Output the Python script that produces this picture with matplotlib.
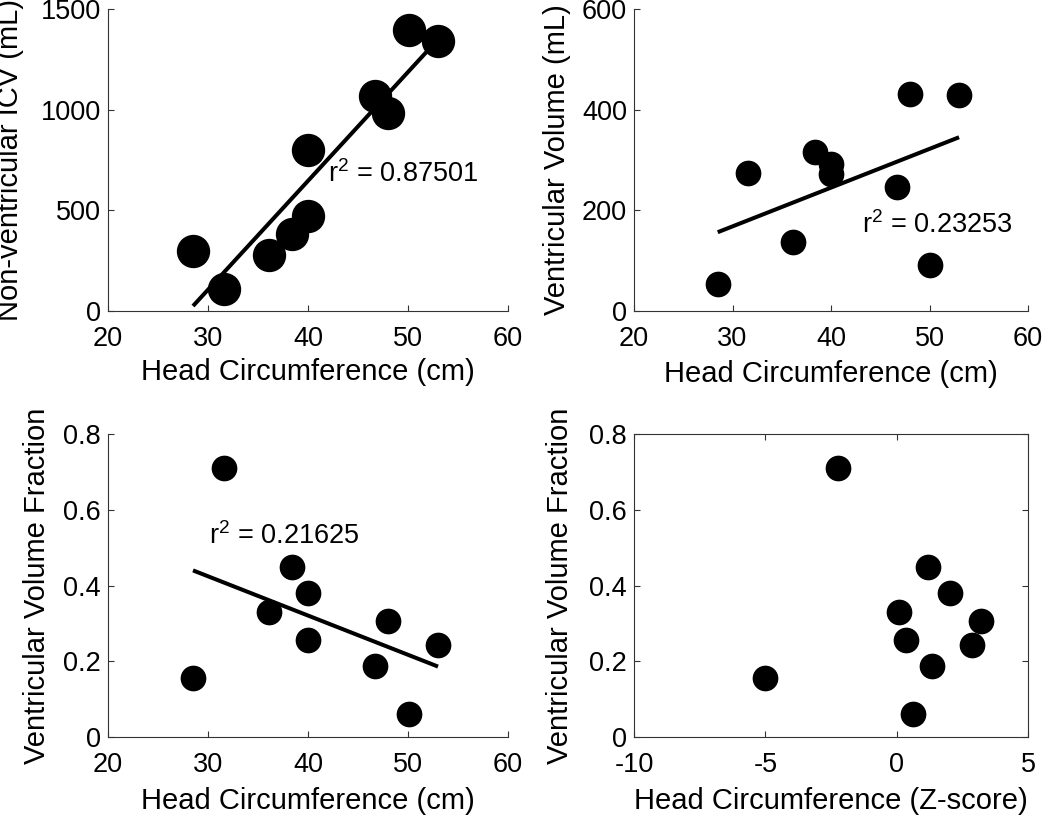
import matplotlib
matplotlib.use('Agg')
import matplotlib.pyplot as plt
import numpy as np

plt.rcParams['font.family'] = ['Liberation Sans', 'DejaVu Sans']
plt.rcParams['axes.unicode_minus'] = False

# ---- data ----
hc_cm = [28.5, 31.6, 36.1, 38.35, 40.0, 40.0, 46.7, 48.0, 50.1, 53.0]
nonvent_icv = [300, 111, 278, 380, 800, 474, 1069, 983, 1397, 1339]
vent_vol = [54, 274, 137, 316, 272, 292, 247, 432, 92, 430]
vvf = [0.156, 0.709, 0.329, 0.449, 0.2555, 0.380, 0.1885, 0.306, 0.062, 0.244]
hc_z = [-5.03, -2.25, 0.09, 1.19, 0.37, 2.04, 1.35, 3.21, 0.61, 2.86]

r2_texts = ["0.87501", "0.23253", "0.21625"]
xlab_cm = "Head Circumference (cm)"
xlab_z = "Head Circumference (Z-score)"
ylabels = ["Non-ventricular ICV (mL)", "Ventricular Volume (mL)",
           "Ventricular Volume Fraction", "Ventricular Volume Fraction"]

W, H = 1050, 816
fig = plt.figure(figsize=(W / 100, H / 100), dpi=100)

def px_axes(l, t, r, b):
    return fig.add_axes([l / W, 1 - b / H, (r - l) / W, (b - t) / H])

ax1 = px_axes(108, 9, 508, 311)
ax2 = px_axes(634, 9, 1028, 311)
ax3 = px_axes(108, 434, 508, 737)
ax4 = px_axes(634, 434, 1028, 737)

TICK_FS = 19.5
LAB_FS = 21
AX_COL = '#333333'

def style(ax, box=False, xpad=11):
    for s in ['left', 'bottom', 'top', 'right']:
        ax.spines[s].set_color(AX_COL)
        ax.spines[s].set_linewidth(0.8)
    if not box:
        ax.spines['top'].set_visible(False)
        ax.spines['right'].set_visible(False)
    ax.tick_params(direction='in', length=4, width=0.8, color=AX_COL,
                   labelsize=TICK_FS, top=box, right=box)
    ax.tick_params(axis='x', pad=xpad)
    ax.tick_params(axis='y', pad=5)

def fit_line(ax, x, y):
    x = np.asarray(x, float)
    y = np.asarray(y, float)
    k, c = np.polyfit(x, y, 1)
    xs = np.array([x.min(), x.max()])
    ax.plot(xs, k * xs + c, color='black', lw=2.9, solid_capstyle='butt')

# Panel 1
ax1.plot(hc_cm, nonvent_icv, 'o', color='black', ms=23, mec='black')
fit_line(ax1, hc_cm, nonvent_icv)
ax1.set_xlim(20, 60); ax1.set_ylim(0, 1500)
ax1.set_xticks([20, 30, 40, 50, 60]); ax1.set_yticks([0, 500, 1000, 1500])
ax1.text(42.0, 680, r'$\mathregular{r^2}$ = ' + r2_texts[0], fontsize=TICK_FS, va='center')
style(ax1)

# Panel 2
ax2.plot(hc_cm, vent_vol, 'o', color='black', ms=17.5, mec='black')
fit_line(ax2, hc_cm, vent_vol)
ax2.set_xlim(20, 60); ax2.set_ylim(0, 600)
ax2.set_xticks([20, 30, 40, 50, 60]); ax2.set_yticks([0, 200, 400, 600])
ax2.text(43.1, 170, r'$\mathregular{r^2}$ = ' + r2_texts[1], fontsize=TICK_FS, va='center')
style(ax2)

# Panel 3
ax3.plot(hc_cm, vvf, 'o', color='black', ms=17.5, mec='black')
fit_line(ax3, hc_cm, vvf)
ax3.set_xlim(20, 60); ax3.set_ylim(0, 0.8)
ax3.set_xticks([20, 30, 40, 50, 60]); ax3.set_yticks([0, 0.2, 0.4, 0.6, 0.8])
ax3.set_yticklabels(['0', '0.2', '0.4', '0.6', '0.8'])
ax3.text(30.1, 0.53, r'$\mathregular{r^2}$ = ' + r2_texts[2], fontsize=TICK_FS, va='center')
style(ax3)

# Panel 4
ax4.plot(hc_z, vvf, 'o', color='black', ms=17.5, mec='black')
ax4.set_xlim(-10, 5); ax4.set_ylim(0, 0.8)
ax4.set_xticks([-10, -5, 0, 5]); ax4.set_yticks([0, 0.2, 0.4, 0.6, 0.8])
ax4.set_yticklabels(['0', '0.2', '0.4', '0.6', '0.8'])
style(ax4, box=True)

# labels
for ax, yl in zip([ax1, ax2, ax3, ax4], ylabels):
    ax.set_ylabel(yl, fontsize=LAB_FS)
ax1.set_xlabel(xlab_cm, fontsize=LAB_FS)
ax2.set_xlabel(xlab_cm, fontsize=LAB_FS)
ax3.set_xlabel(xlab_cm, fontsize=LAB_FS)
ax4.set_xlabel(xlab_z, fontsize=LAB_FS)

ax1.yaxis.set_label_coords((24 - 108) / 400, 0.5)
ax2.yaxis.set_label_coords((571 - 634) / 394, 0.5)
ax3.yaxis.set_label_coords((51 - 108) / 400, 0.5)
ax4.yaxis.set_label_coords((574 - 634) / 394, 0.5)

ax1.xaxis.set_label_coords(0.5, (311 - 358) / 302)
ax2.xaxis.set_label_coords(0.5, (311 - 360) / 302)
ax3.xaxis.set_label_coords(0.5, (737 - 787) / 303)
ax4.xaxis.set_label_coords(0.5, (737 - 787) / 303)

fig.savefig('out.png', dpi=100)
